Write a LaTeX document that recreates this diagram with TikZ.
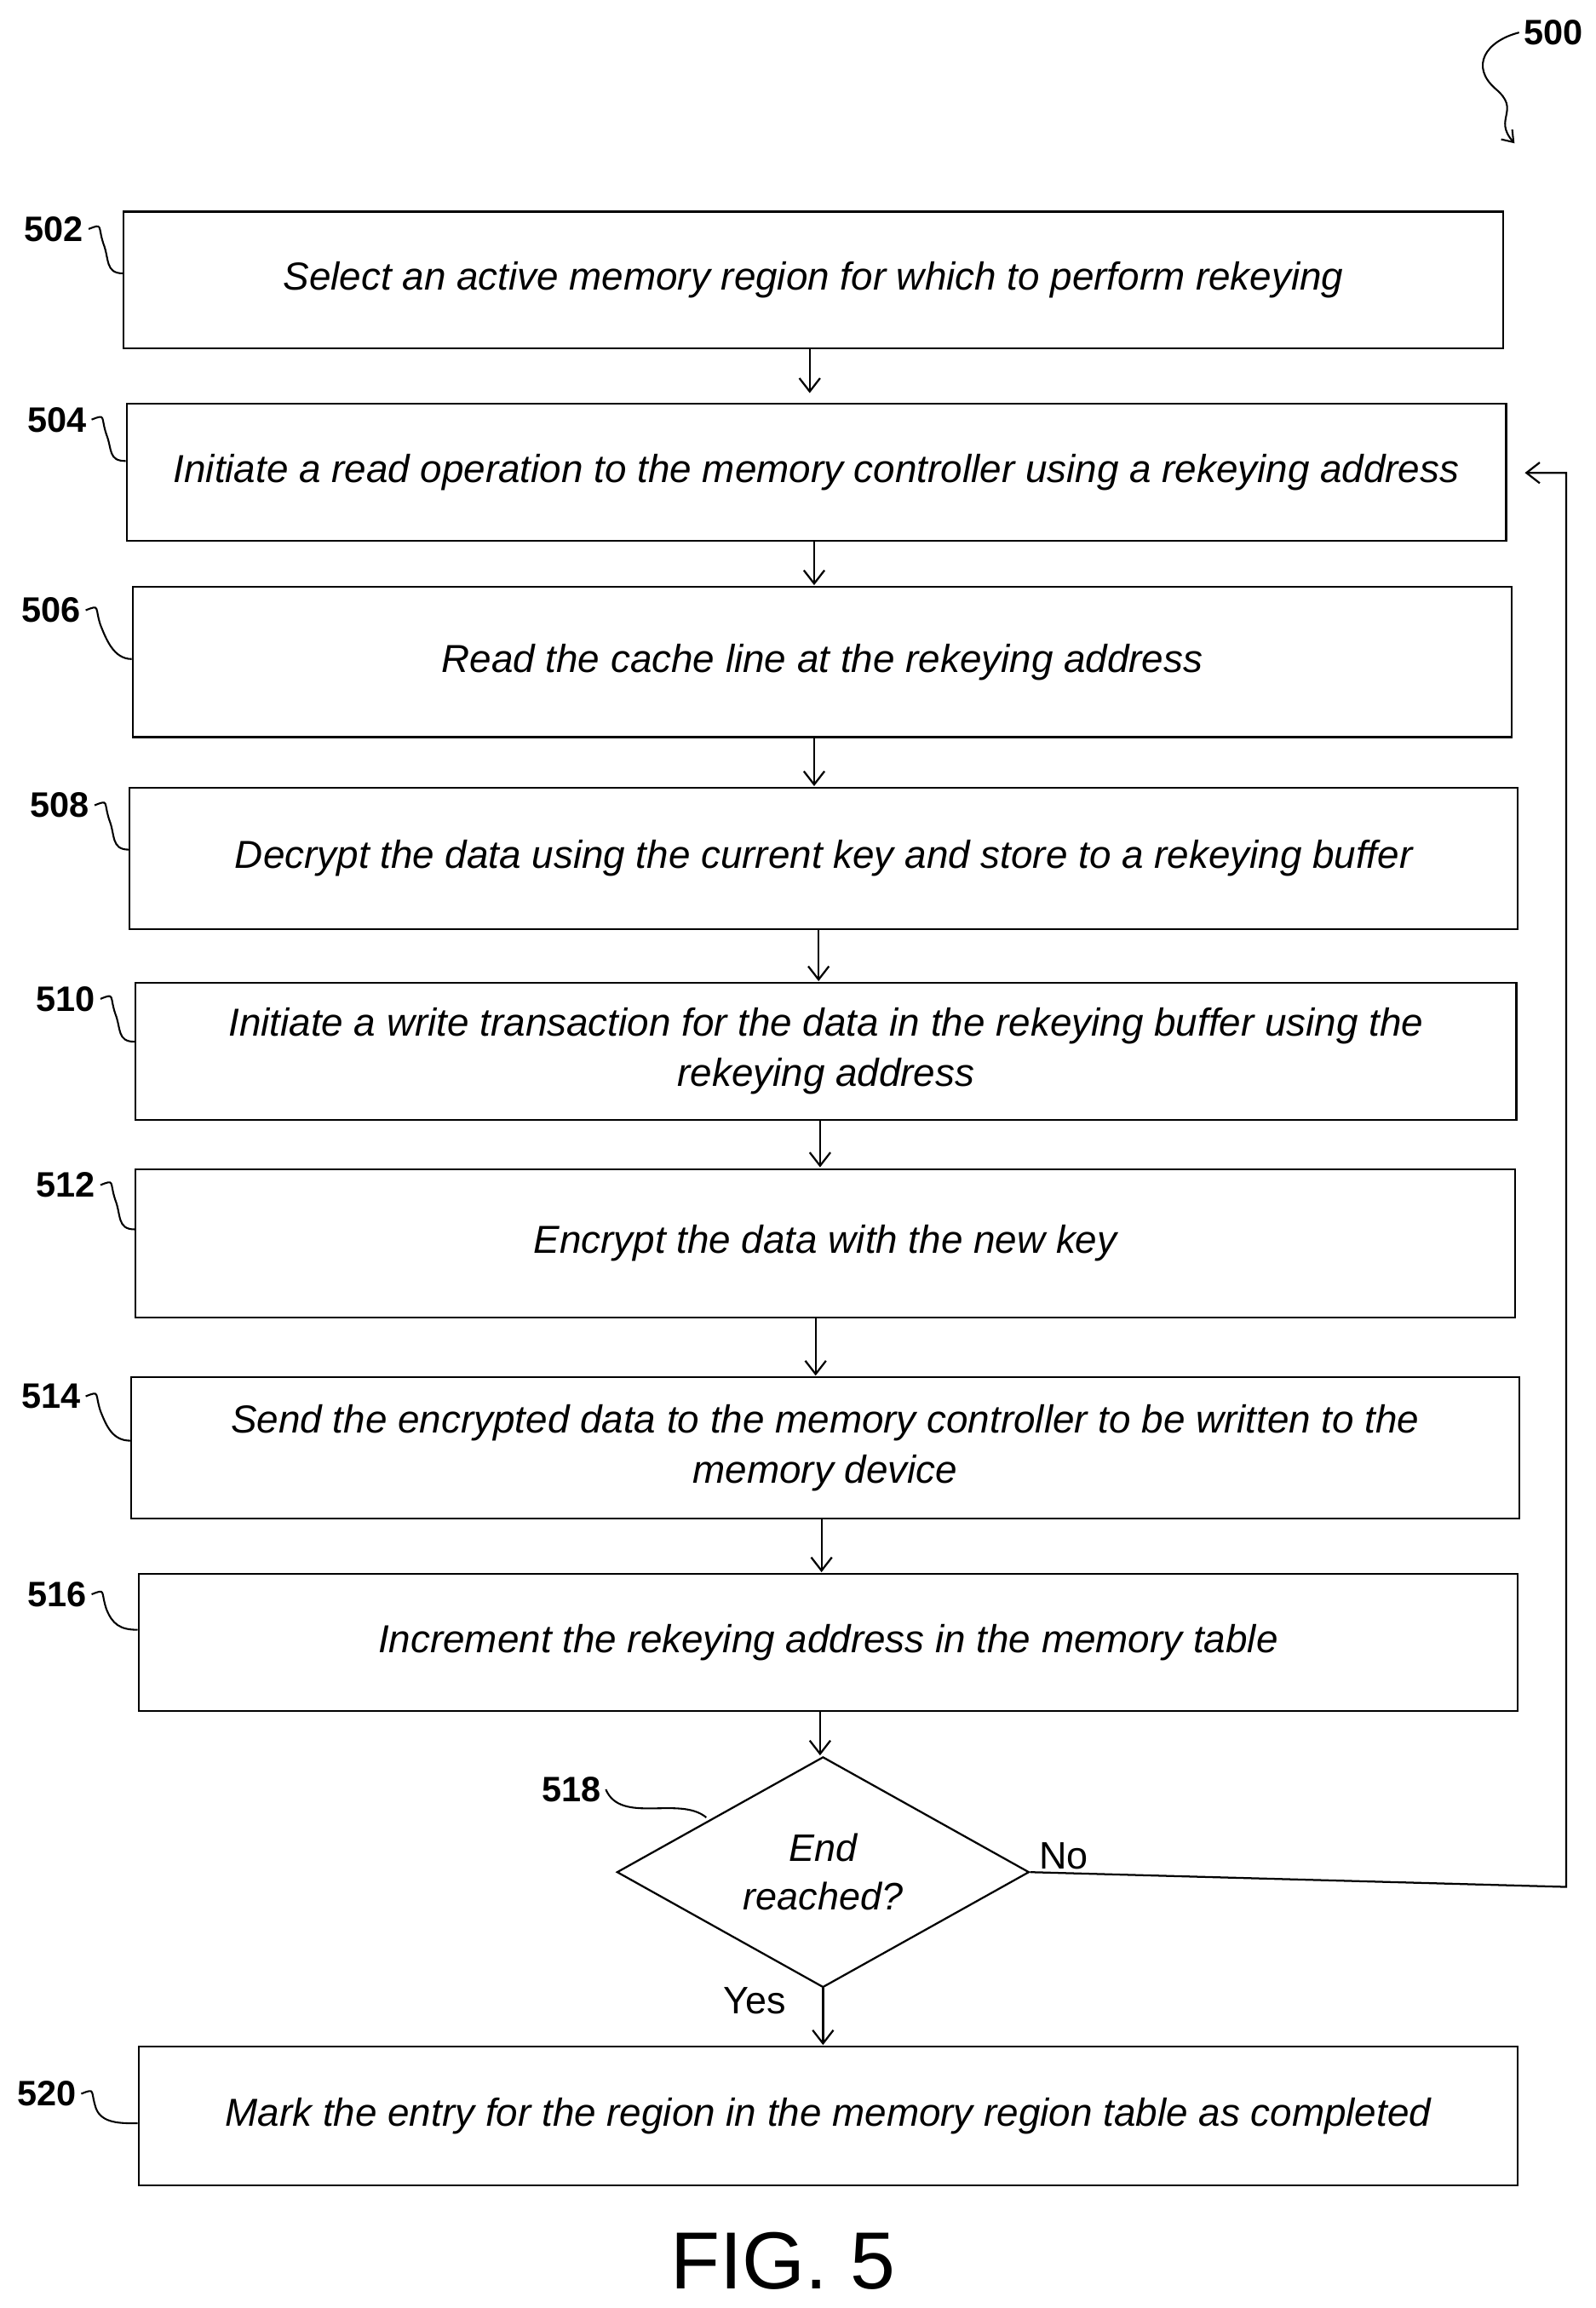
\documentclass[tikz,border=0pt]{standalone}
\usepackage{fontspec}
\setmainfont{Liberation Sans}
\usetikzlibrary{shapes.geometric,arrows.meta}
\begin{document}
\begin{tikzpicture}[x=1bp,y=-1bp,
  box/.style={draw,line width=1.3bp,inner sep=0pt,align=center,font=\fontsize{26.5}{34}\selectfont\itshape},
  lab/.style={font=\fontsize{24}{28}\selectfont\bfseries,anchor=east},
  arr/.style={-{Straight Barb[length=9bp,width=14bp]},line width=1.3bp},
  sq/.style={line width=1.2bp}]
\useasboundingbox (0,0) rectangle (1080,1562);
\newcommand\stepbox[6]{%
  \node[box,minimum width={#3-#2},minimum height={#5-#4}] (#1) at ({(#2+#3)/2},{(#4+#5)/2}) {#6};}
\stepbox{b502}{82}{1019}{143}{236}{Select an active memory region for which to perform rekeying}
\stepbox{b504}{84}{1021}{273}{366}{Initiate a read operation to the memory controller using a rekeying address}
\stepbox{b506}{88}{1025}{397}{499}{Read the cache line at the rekeying address}
\stepbox{b508}{86}{1029}{533}{629}{Decrypt the data using the current key and store to a rekeying buffer}
\stepbox{b510}{90}{1028}{665}{758}{Initiate a write transaction for the data in the rekeying buffer using the\\rekeying address}
\stepbox{b512}{90}{1027}{791}{892}{Encrypt the data with the new key}
\stepbox{b514}{87}{1030}{932}{1028}{Send the encrypted data to the memory controller to be written to the\\memory device}
\stepbox{b516}{92}{1029}{1065}{1158}{Increment the rekeying address in the memory table}
\stepbox{b520}{92}{1029}{1385}{1479}{Mark the entry for the region in the memory region table as completed}
\node[diamond,draw,line width=1.3bp,minimum width=279bp,minimum height=156bp,inner sep=0pt,aspect=1.79,
  align=center,font=\fontsize{26}{33}\selectfont\itshape] (d518) at (557,1267) {End\\reached?};
\draw[arr] (548,236) -- (548,266);
\draw[arr] (551,366) -- (551,396);
\draw[arr] (551,499) -- (551,532);
\draw[arr] (554,629) -- (554,664);
\draw[arr] (555,758) -- (555,790);
\draw[arr] (552,892) -- (552,931);
\draw[arr] (556,1028) -- (556,1064);
\draw[arr] (555,1158) -- (555,1188);
\draw[arr] (557,1345) -- (557,1384);
\coordinate (c1) at (1060,1277);
\coordinate (c2) at (1060,320);
\coordinate (c3) at (1032,320);
\draw[arr] (d518.east) -- (c1) -- (c2) -- (c3);
\node[font=\fontsize{26}{30}\selectfont] (no) at (720,1256) {No};
\node[font=\fontsize{26}{30}\selectfont] (yes) at (511,1354) {Yes};
\newcommand\steplab[4]{%
  \node[lab] (l#1) at (#2,#3) {#1};
  \draw[sq] (l#1.east) .. controls +(10,-4) and +(-4,-12) .. +(10,10) .. controls +(4,10) and +(-12,0) .. (#4);}
\steplab{502}{60}{155}{b502.west|-0,185}
\steplab{504}{62}{284}{b504.west|-0,312}
\steplab{506}{58}{413}{b506.west|-0,446}
\steplab{508}{64}{545}{b508.west|-0,575}
\steplab{510}{68}{676}{b510.west|-0,705}
\steplab{512}{68}{802}{b512.west|-0,832}
\steplab{514}{58}{945}{b514.west|-0,975}
\steplab{516}{62}{1079}{b516.west|-0,1103}
\steplab{520}{55}{1417}{b520.west|-0,1437}
\node[lab] (l518) at (410,1211) {518};
\draw[sq] (l518.east) .. controls (420,1235) and (460,1215) .. (478,1230);
\node[lab] (l500) at (1075,22) {500};
\coordinate (e500) at (1025,97);
\draw[sq,-{Straight Barb[length=7bp,width=10bp]}] (l500.west) .. controls (1005,28) and (995,45) .. (1012,60)
  .. controls (1030,75) and (1010,80) .. (e500);
\node[font=\fontsize{55}{60}\selectfont] (fig) at (530,1530) {FIG. 5};
\end{tikzpicture}
\end{document}
